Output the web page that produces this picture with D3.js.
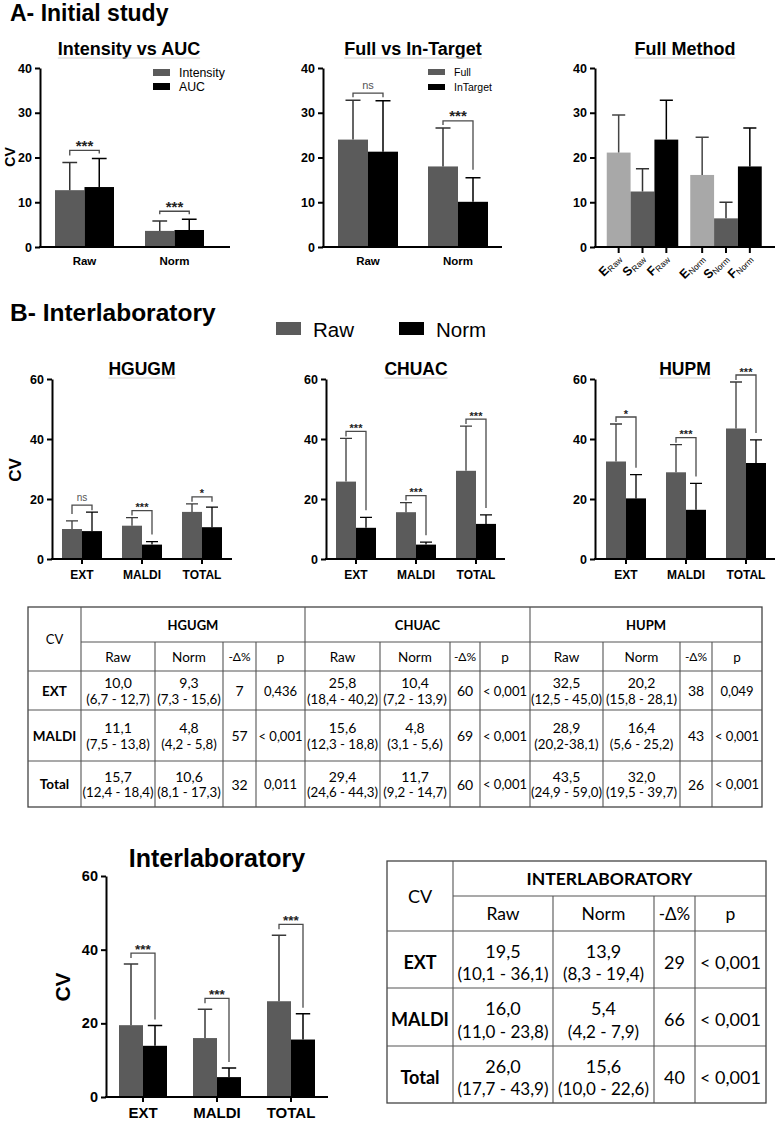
<!DOCTYPE html>
<html><head><meta charset="utf-8">
<script src="https://cdn.jsdelivr.net/npm/d3@7"></script>
<style>body{margin:0;background:#fff}svg{display:block}</style>
</head><body>
<svg id="fig" width="777" height="1123"></svg>
<script>
// ---------------- DATA ----------------
// A1 Intensity vs AUC
const a1Categories = ["Raw", "Norm"];
const a1SeriesNames = ["Intensity", "AUC"];
const a1Intensity = [12.7, 3.6];
const a1IntensityErr = [18.9, 5.8];
const a1Auc = [13.4, 3.8];
const a1AucErr = [19.8, 6.2];
const a1Sig = ["***", "***"];
// A2 Full vs In-Target
const a2Categories = ["Raw", "Norm"];
const a2SeriesNames = ["Full", "InTarget"];
const a2Full = [24.0, 18.0];
const a2FullErr = [32.8, 26.6];
const a2InTarget = [21.3, 10.1];
const a2InTargetErr = [32.7, 15.5];
const a2Sig = ["ns", "***"];
// A3 Full Method
const a3Groups = ["Raw", "Norm"];
const a3Methods = ["E", "S", "F"];
const a3E = [21.1, 16.1];
const a3EErr = [29.5, 24.5];
const a3S = [12.4, 6.4];
const a3SErr = [17.5, 10.0];
const a3F = [24.0, 18.0];
const a3FErr = [32.8, 26.6];
const aTicks = [0, 10, 20, 30, 40];
// B Interlaboratory
const labs = ["HGUGM", "CHUAC", "HUPM"];
const bCategories = ["EXT", "MALDI", "TOTAL"];
const tableRowLabels = ["EXT", "MALDI", "Total"];
const bSeriesNames = ["Raw", "Norm"];
const bTicks = [0, 20, 40, 60];

const hgugmRaw = [10.0, 11.1, 15.7];
const hgugmRawLo = [6.7, 7.5, 12.4];
const hgugmRawHi = [12.7, 13.8, 18.4];
const hgugmNorm = [9.3, 4.8, 10.6];
const hgugmNormLo = [7.3, 4.2, 8.1];
const hgugmNormHi = [15.6, 5.8, 17.3];
const hgugmDelta = [7, 57, 32];
const hgugmP = ["0,436", "< 0,001", "0,011"];
const hgugmSig = ["ns", "***", "*"];

const chuacRaw = [25.8, 15.6, 29.4];
const chuacRawLo = [18.4, 12.3, 24.6];
const chuacRawHi = [40.2, 18.8, 44.3];
const chuacNorm = [10.4, 4.8, 11.7];
const chuacNormLo = [7.2, 3.1, 9.2];
const chuacNormHi = [13.9, 5.6, 14.7];
const chuacDelta = [60, 69, 60];
const chuacP = ["< 0,001", "< 0,001", "< 0,001"];
const chuacSig = ["***", "***", "***"];

const hupmRaw = [32.5, 28.9, 43.5];
const hupmRawLo = [12.5, 20.2, 24.9];
const hupmRawHi = [45.0, 38.1, 59.0];
const hupmRawSep = [" - ", "-", " - "];
const hupmNorm = [20.2, 16.4, 32.0];
const hupmNormLo = [15.8, 5.6, 19.5];
const hupmNormHi = [28.1, 25.2, 39.7];
const hupmDelta = [38, 43, 26];
const hupmP = ["0,049", "< 0,001", "< 0,001"];
const hupmSig = ["*", "***", "***"];

const interRaw = [19.5, 16.0, 26.0];
const interRawLo = [10.1, 11.0, 17.7];
const interRawHi = [36.1, 23.8, 43.9];
const interNorm = [13.9, 5.4, 15.6];
const interNormLo = [8.3, 4.2, 10.0];
const interNormHi = [19.4, 7.9, 22.6];
const interDelta = [29, 66, 40];
const interP = ["< 0,001", "< 0,001", "< 0,001"];
const interSig = ["***", "***", "***"];

// ---------------- STYLE ----------------
const FONT = "'Liberation Sans', Arial, sans-serif";
const TFONT = "Lato, 'Open Sans', sans-serif";
const C_RAW = "#5b5b5b", C_NORM = "#000000", C_LIGHT = "#a8a8a8";
const svg = d3.select("#fig");
const f1 = d3.format(".1f");
const dec = v => f1(v).replace(".", ",");

function title(x, y, txt, size, underline) {
  const t = svg.append("text").attr("x", x).attr("y", y).attr("text-anchor", underline === null ? "start" : "middle")
    .attr("font-family", FONT).attr("font-weight", "bold").attr("font-size", size).text(txt);
  if (underline) {
    const w = t.node().getComputedTextLength();
    svg.append("line").attr("x1", x - w / 2).attr("x2", x + w / 2).attr("y1", y + 3).attr("y2", y + 3)
      .attr("stroke", "#d0d0d0").attr("stroke-width", 1);
  }
}
function yLabel(x, y, size) {
  svg.append("text").attr("transform", `translate(${x},${y}) rotate(-90)`).attr("text-anchor", "middle")
    .attr("dominant-baseline", "central").attr("font-family", FONT).attr("font-weight", "bold")
    .attr("font-size", size).text("CV");
}

function chart(cfg) {
  const g = svg.append("g");
  const y = d3.scaleLinear().domain([0, cfg.yMax]).range([cfg.y0, cfg.yTop]);
  const n = cfg.categories.length;
  const pi = 1 - cfg.groupWidth / cfg.step;
  const r0 = cfg.firstCenter - cfg.step / 2;
  const x0 = d3.scaleBand().domain(cfg.categories).range([r0, r0 + n * cfg.step]).paddingInner(pi).paddingOuter(pi / 2);
  const x1 = d3.scaleBand().domain(d3.range(cfg.series.length)).range([0, x0.bandwidth()]);
  const bw = x1.bandwidth();
  const capW = bw * cfg.capRatio;
  const cx = (c, si) => x0(c) + x1(si) + bw / 2;

  cfg.series.forEach((s, si) => {
    const sg = g.append("g");
    sg.selectAll("rect").data(cfg.categories).join("rect")
      .attr("x", c => x0(c) + x1(si)).attr("width", bw)
      .attr("y", (c, i) => y(s.values[i])).attr("height", (c, i) => y(0) - y(s.values[i]))
      .attr("fill", s.color);
    sg.selectAll("path.err").data(cfg.categories).join("path").attr("class", "err")
      .attr("d", (c, i) => `M${cx(c, si)},${y(s.values[i])}V${y(s.errs[i])}M${cx(c, si) - capW / 2},${y(s.errs[i])}H${cx(c, si) + capW / 2}`)
      .attr("stroke", s.errColor).attr("stroke-width", cfg.errW).attr("fill", "none");
  });

  // y axis
  const ya = g.append("g").attr("transform", `translate(${cfg.axisX},0)`)
    .call(d3.axisLeft(y).tickValues(cfg.ticks).tickSize(5).tickSizeOuter(0).tickPadding(3));
  ya.select(".domain").attr("stroke-width", 2);
  ya.selectAll(".tick line").attr("stroke-width", 2);
  ya.selectAll(".tick text").attr("font-family", FONT).attr("font-weight", "bold").attr("font-size", cfg.tickFont).attr("fill", "#000");

  // x axis line
  g.append("line").attr("x1", cfg.axisX - 1).attr("x2", cfg.axisEnd).attr("y1", y(0)).attr("y2", y(0))
    .attr("stroke", "#000").attr("stroke-width", 2);
  if (cfg.xTicks === "group") {
    g.selectAll("line.xt").data(cfg.categories).join("line").attr("class", "xt")
      .attr("x1", c => x0(c) + x0.bandwidth() / 2).attr("x2", c => x0(c) + x0.bandwidth() / 2)
      .attr("y1", y(0)).attr("y2", y(0) + 5).attr("stroke", "#000").attr("stroke-width", 2);
  }
  if (cfg.xLabels !== false) {
    g.selectAll("text.xl").data(cfg.categories).join("text").attr("class", "xl")
      .attr("x", c => x0(c) + x0.bandwidth() / 2).attr("y", y(0) + cfg.xLabelDy)
      .attr("text-anchor", "middle").attr("font-family", FONT).attr("font-weight", "bold")
      .attr("font-size", cfg.xLabelFont).text(c => c);
  }

  // significance brackets
  if (cfg.sig) cfg.sig.forEach((lab, i) => {
    const c = cfg.categories[i];
    const xl = cx(c, 0), xr = cx(c, 1);
    const yl = y(cfg.series[0].errs[i]), yr = y(cfg.series[1].errs[i]);
    const yb = Math.min(yl, yr) - cfg.bracketGap;
    const ll = Math.max(yb + cfg.legMin, yl - cfg.legGap);
    const lr = Math.max(yb + cfg.legMin, yr - cfg.legGap);
    g.append("path").attr("d", `M${xl},${ll}V${yb}H${xr}V${lr}`).attr("fill", "none")
      .attr("stroke", "#4a4a4a").attr("stroke-width", 1.3);
    g.append("text").attr("x", (xl + xr) / 2).attr("y", lab === "ns" ? yb - 4 : yb + 0.5)
      .attr("text-anchor", "middle").attr("font-family", FONT)
      .attr("font-weight", lab === "ns" ? "normal" : "bold")
      .attr("font-size", lab === "ns" ? cfg.nsFont : cfg.sigFont)
      .attr("fill", lab === "ns" ? "#555" : "#222").text(lab);
  });
  return { x0, x1, y, bw };
}

// ---------------- SECTION A ----------------
title(10, 21, "A- Initial study", 23, null);

// A1
title(129, 55, "Intensity vs AUC", 18, true);
yLabel(10, 157, 14);
chart({
  categories: a1Categories,
  series: [
    { values: a1Intensity, errs: a1IntensityErr, color: C_RAW, errColor: "#333" },
    { values: a1Auc, errs: a1AucErr, color: C_NORM, errColor: "#000" }
  ],
  sig: a1Sig, axisX: 40, axisEnd: 230, y0: 247, yTop: 68, yMax: 40, ticks: aTicks,
  firstCenter: 84.5, step: 90, groupWidth: 59, capRatio: 0.5, errW: 1.5,
  tickFont: 12.5, xLabelFont: 11.5, xLabelDy: 18, xTicks: "none",
  bracketGap: 8, legMin: 3, legGap: 7, sigFont: 15, nsFont: 11
});
[a1SeriesNames[0], a1SeriesNames[1]].forEach((nm, i) => {
  svg.append("rect").attr("x", 153).attr("y", 69 + i * 14).attr("width", 17).attr("height", 7).attr("fill", i ? C_NORM : C_RAW);
  svg.append("text").attr("x", 179).attr("y", 77 + i * 14).attr("font-family", FONT).attr("font-size", 12.3).text(nm);
});

// A2
title(413, 55, "Full vs In-Target", 18, true);
chart({
  categories: a2Categories,
  series: [
    { values: a2Full, errs: a2FullErr, color: C_RAW, errColor: "#333" },
    { values: a2InTarget, errs: a2InTargetErr, color: C_NORM, errColor: "#000" }
  ],
  sig: a2Sig, axisX: 323, axisEnd: 502, y0: 247, yTop: 68, yMax: 40, ticks: aTicks,
  firstCenter: 368, step: 90, groupWidth: 60, capRatio: 0.5, errW: 1.5,
  tickFont: 12.5, xLabelFont: 11.5, xLabelDy: 18, xTicks: "none",
  bracketGap: 7, legMin: 4, legGap: 8, sigFont: 15, nsFont: 11
});
[a2SeriesNames[0], a2SeriesNames[1]].forEach((nm, i) => {
  svg.append("rect").attr("x", 428).attr("y", 69 + i * 15).attr("width", 17).attr("height", 6).attr("fill", i ? C_NORM : C_RAW);
  svg.append("text").attr("x", 454).attr("y", 76 + i * 15).attr("font-family", FONT).attr("font-size", 10.5).text(nm);
});

// A3
title(685, 55, "Full Method", 18, true);
const a3 = chart({
  categories: a3Groups,
  series: [
    { values: a3E, errs: a3EErr, color: C_LIGHT, errColor: "#444" },
    { values: a3S, errs: a3SErr, color: C_RAW, errColor: "#333" },
    { values: a3F, errs: a3FErr, color: C_NORM, errColor: "#000" }
  ],
  axisX: 595, axisEnd: 775, y0: 247, yTop: 68, yMax: 40, ticks: aTicks,
  firstCenter: 642.5, step: 83.5, groupWidth: 71.5, capRatio: 0.55, errW: 1.5,
  tickFont: 12.5, xLabels: false, xTicks: "none"
});
a3Groups.forEach(gName => {
  a3Methods.forEach((m, mi) => {
    const xc = a3.x0(gName) + a3.x1(mi) + a3.bw / 2;
    svg.append("line").attr("x1", xc).attr("x2", xc).attr("y1", 247).attr("y2", 253).attr("stroke", "#000").attr("stroke-width", 2);
    const t = svg.append("text").attr("transform", `translate(${xc + 3},${259}) rotate(-45)`)
      .attr("text-anchor", "end").attr("font-family", FONT);
    t.append("tspan").attr("font-weight", "bold").attr("font-size", 12.5).text(m);
    t.append("tspan").attr("font-size", 8.5).attr("dy", 2).text(gName);
  });
});

// ---------------- SECTION B ----------------
title(10, 321, "B- Interlaboratory", 24.5, null);
// legend
bSeriesNames.forEach((nm, i) => {
  svg.append("rect").attr("x", 276 + i * 123).attr("y", 322).attr("width", 25).attr("height", 13).attr("fill", i ? C_NORM : C_RAW);
  svg.append("text").attr("x", 313 + i * 123).attr("y", 337).attr("font-family", FONT).attr("font-size", 20.5).text(nm);
});

const labData = [
  { name: labs[0], raw: hgugmRaw, rawLo: hgugmRawLo, rawHi: hgugmRawHi, norm: hgugmNorm, normLo: hgugmNormLo, normHi: hgugmNormHi, delta: hgugmDelta, p: hgugmP, sig: hgugmSig },
  { name: labs[1], raw: chuacRaw, rawLo: chuacRawLo, rawHi: chuacRawHi, norm: chuacNorm, normLo: chuacNormLo, normHi: chuacNormHi, delta: chuacDelta, p: chuacP, sig: chuacSig },
  { name: labs[2], raw: hupmRaw, rawLo: hupmRawLo, rawHi: hupmRawHi, rawSep: hupmRawSep, norm: hupmNorm, normLo: hupmNormLo, normHi: hupmNormHi, delta: hupmDelta, p: hupmP, sig: hupmSig }
];
const bLayout = [
  { axisX: 52, axisEnd: 232, firstCenter: 82, titleX: 142 },
  { axisX: 326, axisEnd: 505, firstCenter: 356, titleX: 416 },
  { axisX: 595, axisEnd: 775, firstCenter: 626, titleX: 685 }
];
labData.forEach((d, k) => {
  const L = bLayout[k];
  title(L.titleX, 375, d.name, 17.5, true);
  chart({
    categories: bCategories,
    series: [
      { values: d.raw, errs: d.rawHi, color: C_RAW, errColor: "#3a3a3a" },
      { values: d.norm, errs: d.normHi, color: C_NORM, errColor: "#000" }
    ],
    sig: d.sig, axisX: L.axisX, axisEnd: L.axisEnd, y0: 559, yTop: 379, yMax: 60, ticks: bTicks,
    firstCenter: L.firstCenter, step: 60, groupWidth: 40, capRatio: 0.6, errW: 1.3,
    tickFont: 12.5, xLabelFont: 12, xLabelDy: 20, xTicks: "group",
    bracketGap: 7, legMin: 5, legGap: 7, sigFont: 11, nsFont: 10
  });
});
yLabel(15, 470, 17);

// ---------------- TABLES ----------------
const rangeTxt = (lo, hi, sep) => `(${dec(lo)}${sep || " - "}${dec(hi)})`;
function drawTable(cfg) {
  const g = svg.append("g").attr("font-family", TFONT);
  const { cols, rows, blocks } = cfg;
  const L = cols[0], R = cols[cols.length - 1], T = rows[0], B = rows[rows.length - 1];
  const line = (x1, y1, x2, y2) => g.append("line").attr("x1", x1).attr("y1", y1).attr("x2", x2).attr("y2", y2)
    .attr("stroke", "#555").attr("stroke-width", 1.1);
  g.append("rect").attr("x", L).attr("y", T).attr("width", R - L).attr("height", B - T)
    .attr("fill", "none").attr("stroke", "#444").attr("stroke-width", 1.3);
  line(cols[1], T, cols[1], B);
  line(cols[1], rows[1], R, rows[1]);
  for (let r = 2; r < rows.length - 1; r++) line(L, rows[r], R, rows[r]);
  blocks.forEach((b, k) => {
    const c = cols.slice(1 + 4 * k, 6 + 4 * k);
    if (k > 0) line(c[0], T, c[0], B);
    for (let j = 1; j < 4; j++) line(c[j], rows[1], c[j], B);
    const txt = (x, y, s, size, bold) => g.append("text").attr("x", x).attr("y", y).attr("text-anchor", "middle")
      .attr("dominant-baseline", "central").attr("font-size", size).attr("font-weight", bold ? "bold" : "normal").text(s);
    txt((c[0] + c[4]) / 2, (rows[0] + rows[1]) / 2, b.name, cfg.fHead, true);
    ["Raw", "Norm", "-Δ%", "p"].forEach((h, j) => txt((c[j] + c[j + 1]) / 2, (rows[1] + rows[2]) / 2, h, j === 2 ? cfg.fDelta : cfg.fSub, false));
    tableRowLabels.forEach((rl, i) => {
      const rc = (rows[i + 2] + rows[i + 3]) / 2;
      txt((c[0] + c[1]) / 2, rc + cfg.vDy, dec(b.raw[i]), cfg.fVal, false);
      txt((c[0] + c[1]) / 2, rc + cfg.rDy, rangeTxt(b.rawLo[i], b.rawHi[i], b.rawSep ? b.rawSep[i] : null), cfg.fRange, false);
      txt((c[1] + c[2]) / 2, rc + cfg.vDy, dec(b.norm[i]), cfg.fVal, false);
      txt((c[1] + c[2]) / 2, rc + cfg.rDy, rangeTxt(b.normLo[i], b.normHi[i]), cfg.fRange, false);
      txt((c[2] + c[3]) / 2, rc + cfg.sDy, b.delta[i], cfg.fVal, false);
      txt((c[3] + c[4]) / 2, rc + cfg.sDy, b.p[i], cfg.fP, false);
    });
  });
  g.append("text").attr("x", (cols[0] + cols[1]) / 2).attr("y", (rows[0] + rows[2]) / 2).attr("text-anchor", "middle")
    .attr("dominant-baseline", "central").attr("font-size", cfg.fCV).text("CV");
  tableRowLabels.forEach((rl, i) => {
    g.append("text").attr("x", (cols[0] + cols[1]) / 2).attr("y", (rows[i + 2] + rows[i + 3]) / 2 + cfg.sDy)
      .attr("text-anchor", "middle").attr("dominant-baseline", "central").attr("font-weight", "bold")
      .attr("font-size", cfg.fRow).text(rl);
  });
}
drawTable({
  cols: [28, 81, 155, 223, 256, 305, 380, 450, 480, 530, 603, 680, 712, 762],
  rows: [607, 642, 671, 710, 761, 807],
  blocks: labData,
  fHead: 13, fSub: 13.5, fDelta: 12, fVal: 14, fRange: 13.3, fP: 13, fCV: 13, fRow: 13.5,
  vDy: -8, rDy: 8, sDy: 0
});

// ---------------- BOTTOM ----------------
title(217, 867, "Interlaboratory", 25, false);
yLabel(62, 987, 21);
chart({
  categories: bCategories,
  series: [
    { values: interRaw, errs: interRawHi, color: C_RAW, errColor: "#3a3a3a" },
    { values: interNorm, errs: interNormHi, color: C_NORM, errColor: "#000" }
  ],
  sig: interSig, axisX: 106, axisEnd: 328, y0: 1097, yTop: 876, yMax: 60, ticks: bTicks,
  firstCenter: 143, step: 74, groupWidth: 48, capRatio: 0.6, errW: 1.5,
  tickFont: 14.5, xLabelFont: 15, xLabelDy: 21, xTicks: "group",
  bracketGap: 11, legMin: 5, legGap: 6, sigFont: 13.5, nsFont: 12
});
drawTable({
  cols: [387, 453, 553, 654, 695, 766],
  rows: [861, 896, 931, 988, 1046, 1103],
  blocks: [{ name: "INTERLABORATORY", raw: interRaw, rawLo: interRawLo, rawHi: interRawHi, norm: interNorm, normLo: interNormLo, normHi: interNormHi, delta: interDelta, p: interP }],
  fHead: 17.5, fSub: 17.5, fDelta: 17, fVal: 18, fRange: 17, fP: 18, fCV: 18, fRow: 18,
  vDy: -9, rDy: 14, sDy: 2
});
</script>
</body></html>
